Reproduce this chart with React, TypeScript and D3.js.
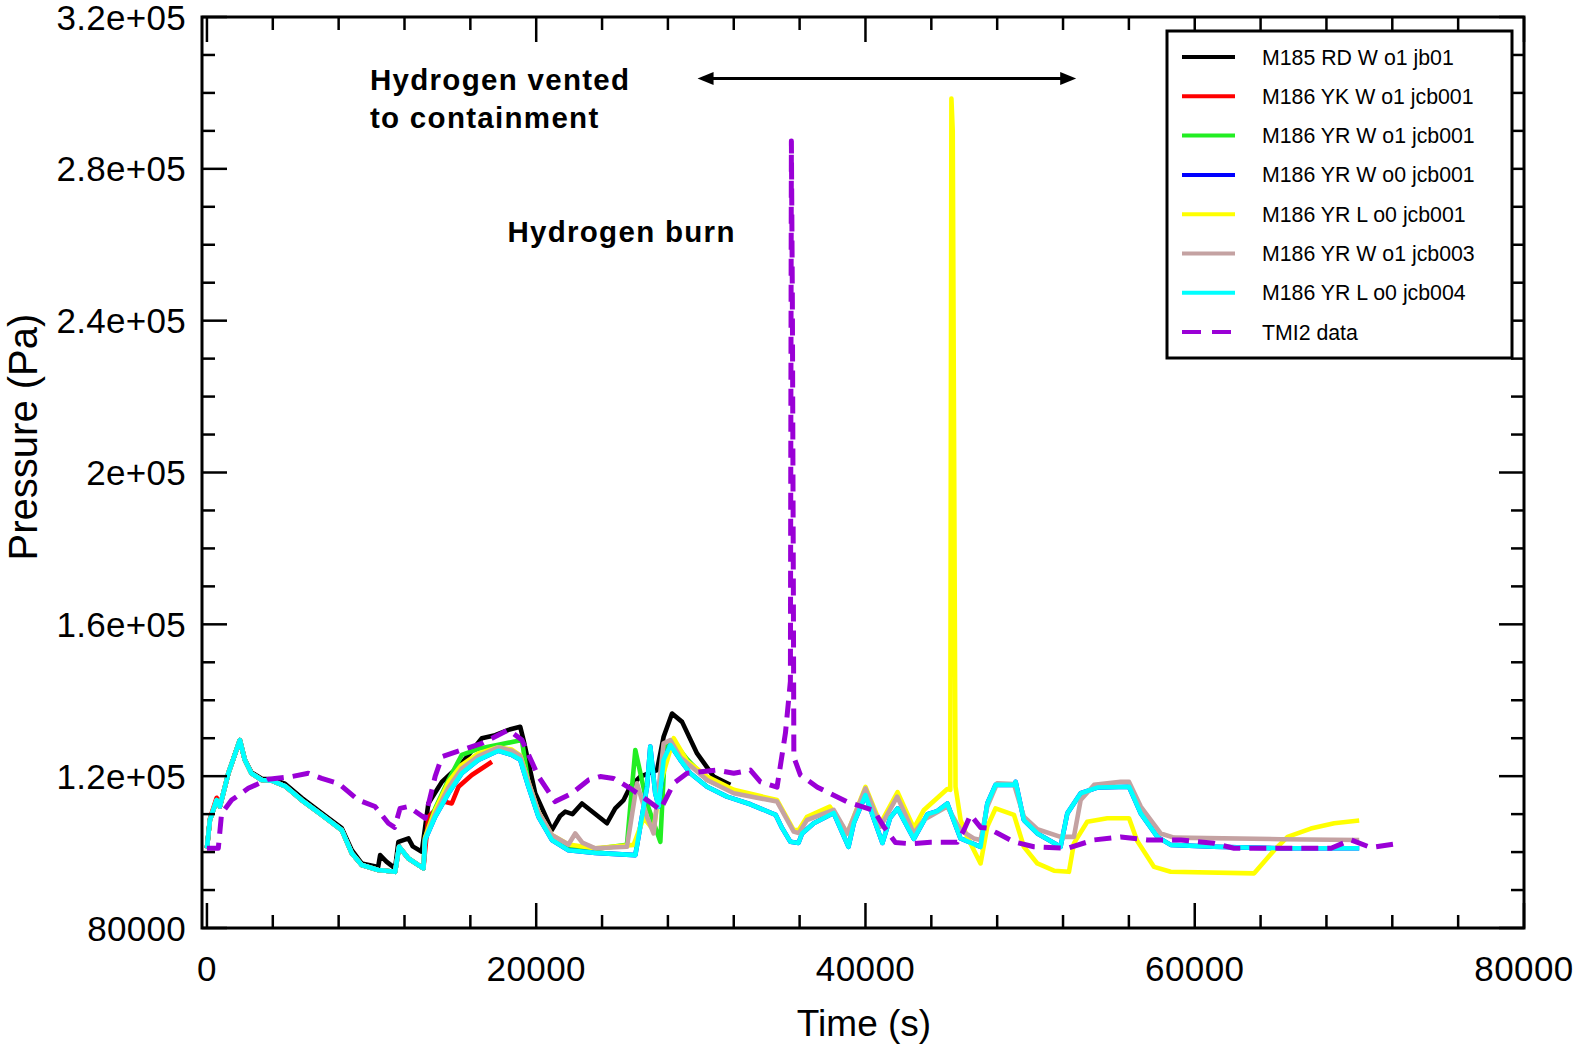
import { useEffect, useRef } from 'react';
import * as d3 from 'd3';

type Pt = [number, number];

const WIDTH = 1577;
const HEIGHT = 1044;
const PLOT = { left: 202, right: 1524, top: 17, bottom: 928 };
const FONT = '"Liberation Sans", Arial, Helvetica, sans-serif';

// axis ticks
const xMajorTicks = [0, 20000, 40000, 60000, 80000];
const xTickLabels = ['0', '20000', '40000', '60000', '80000'];
const xMinorStep = 4000;
const yMajorTicks = [80000, 120000, 160000, 200000, 240000, 280000, 320000];
const yTickLabels = ['80000', '1.2e+05', '1.6e+05', '2e+05', '2.4e+05', '2.8e+05', '3.2e+05'];
const yMinorStep = 10000;

// series: [time (s), pressure (Pa)]
const m185RdWo1: Pt[] = [
    [0, 101000], [180, 108450], [590, 113700], [790, 112000], [1300, 120750], [2000, 129500],
    [2300, 124300], [2700, 121000], [3330, 119300], [3930, 119200], [4740, 118000], [5750, 114300],
    [6970, 110300], [8190, 106300], [8800, 100500], [9400, 97000], [10400, 96100], [10520, 99200],
    [10900, 97500], [11430, 95700], [11630, 102700], [12240, 103600], [12500, 101500], [13050, 100100],
    [13450, 112800], [14270, 118500], [15480, 123400], [16700, 130000], [17510, 130800], [18320, 132200],
    [19030, 133000], [19230, 129500], [19940, 115500], [20950, 105800], [21450, 109500], [21760, 110650],
    [22200, 110000], [22780, 112800], [24300, 107600], [24800, 111500], [25310, 113700], [25710, 117200],
    [26320, 119900], [27340, 121600], [27740, 130400], [28250, 136500], [28860, 134300], [29770, 126000],
    [30780, 119900], [31790, 117700],
];

const m186YkWo1: Pt[] = [
    [0, 101000], [180, 108800], [590, 114300], [790, 112000], [1300, 120750], [2000, 129500],
    [2300, 124300], [2700, 120750], [3330, 119000], [3930, 118800], [4740, 117400], [5750, 113700],
    [6970, 109800], [8190, 105800], [8800, 99700], [9400, 96600], [10400, 95300], [11430, 94800],
    [11670, 101400], [12240, 98300], [13150, 95700], [13450, 109300], [14370, 113300], [14870, 112800],
    [15280, 117200], [16090, 120300], [17310, 123800],
];

const m186YrWo1: Pt[] = [
    [0, 101000], [180, 108450], [590, 113700], [790, 112000], [1300, 120750], [2000, 129500],
    [2300, 124300], [2700, 120750], [3330, 119000], [3930, 118800], [4740, 117400], [5750, 113700],
    [6970, 109800], [8190, 105800], [8800, 99700], [9400, 96600], [10400, 95300], [11430, 94800],
    [11670, 101400], [12240, 98300], [13150, 95700], [13250, 103800], [13860, 111500], [14670, 119000],
    [15480, 125600], [16490, 127200], [17700, 128300], [19130, 129500], [19530, 118000], [20140, 110000],
    [20950, 104000], [21960, 101500], [23590, 100800], [25510, 101900], [26020, 126900], [26730, 112800],
    [27540, 102700], [27840, 128650], [28350, 129000], [29160, 124500], [30380, 119000], [32000, 115800],
    [34630, 113500],
];

const m186YrWo0: Pt[] = [
    [0, 101000], [180, 108450], [590, 113700], [790, 112000], [1300, 120750], [2000, 129500],
    [2300, 124300], [2700, 120750], [3330, 119000], [3930, 118800], [4740, 117400], [5750, 113700],
    [6970, 109800], [8190, 105800], [8800, 99700], [9400, 96600], [10400, 95300], [11430, 94800],
    [11670, 101400], [12240, 98300], [13150, 95700], [13250, 103200], [13860, 109300], [14670, 115500],
    [15480, 120750], [16490, 124300], [17700, 126700], [18520, 125600], [19030, 124300], [19530, 117200],
    [20140, 109300], [20950, 103200], [21960, 100500], [23590, 99800], [26020, 99200], [26320, 106700],
    [26730, 117200], [26930, 127800], [27230, 115500], [27440, 112000], [27740, 124300], [28150, 128200],
    [28750, 124300], [29360, 120750], [30380, 117200], [31590, 114600], [33010, 112600], [34550, 109800],
    [34940, 106300], [35440, 102700], [35930, 102400], [36150, 104900], [36860, 107600], [38070, 110300],
    [38970, 101400], [39290, 107600], [40000, 115000], [41030, 102400], [41500, 109000], [41950, 111500],
    [42940, 103500], [43770, 110000], [44360, 110800], [44970, 112800], [45770, 103600], [46990, 101400],
    [47400, 112800], [47900, 117700], [49020, 117700], [49120, 118500], [49620, 108450], [50440, 104900],
    [51850, 101400], [52260, 110200], [53070, 115500], [54080, 117000], [56010, 117200], [56720, 110200],
    [57730, 104000], [58540, 101900], [61170, 101400], [65230, 101000], [69990, 101000],
];

const m186YrLo0: Pt[] = [
    [0, 101000], [180, 108450], [590, 113700], [790, 112000], [1300, 120750], [2000, 129500],
    [2300, 124300], [2700, 120750], [3330, 119000], [3930, 118800], [4740, 117400], [5750, 113700],
    [6970, 109800], [8190, 105800], [8800, 99700], [9400, 96600], [10400, 95300], [11430, 94800],
    [11670, 101400], [12240, 98300], [13150, 95700], [13250, 103800], [13860, 111000], [14670, 118500],
    [15480, 123000], [16490, 126000], [17700, 127600], [18520, 127000], [19030, 125500], [19530, 118500],
    [20140, 110500], [20950, 104500], [21960, 102000], [23590, 101000], [25920, 101900], [26330, 106700],
    [26530, 109000], [27130, 105800], [27540, 118000], [28350, 130000], [29160, 124000], [30380, 119900],
    [32000, 116400], [34630, 113700], [35640, 105800], [35950, 105800], [36450, 109300], [37830, 112000],
    [38890, 104900], [40000, 117200], [40910, 107500], [41950, 115800], [42940, 106300], [43550, 111100],
    [44970, 116600], [45150, 116400], [45220, 298500], [45300, 290000], [45470, 117200], [45780, 108450],
    [46180, 104000], [46990, 97000], [47400, 106700], [47900, 111500], [49020, 109800], [49620, 101400],
    [50440, 97000], [51450, 95100], [52360, 94800], [52660, 102300], [53470, 108000], [54690, 108900],
    [56010, 108900], [56500, 103000], [57530, 96100], [58540, 94800], [63610, 94400], [64830, 100500],
    [65640, 104000], [67050, 106200], [68470, 107600], [69990, 108300],
];

const m186YrWo1b: Pt[] = [
    [0, 101000], [180, 108450], [590, 113700], [790, 112000], [1300, 120750], [2000, 129500],
    [2300, 124300], [2700, 120750], [3330, 119000], [3930, 118800], [4740, 117400], [5750, 113700],
    [6970, 109800], [8190, 105800], [8800, 99700], [9400, 96600], [10400, 95300], [11430, 94800],
    [11670, 101400], [12240, 98300], [13150, 95700], [13250, 103500], [13860, 110000], [14670, 117000],
    [15480, 122000], [16490, 125300], [17700, 127600], [18520, 126700], [19030, 125300], [19530, 118500],
    [20140, 110500], [20950, 104500], [21960, 102000], [22370, 104900], [22800, 102500], [23590, 101000],
    [25510, 101400], [26120, 118100], [26730, 109300], [27130, 104900], [27740, 128650], [28150, 129500],
    [28750, 125000], [30380, 119000], [32000, 115500], [34630, 113300], [35640, 105400], [35950, 105000],
    [36450, 108450], [38070, 111100], [38890, 104900], [40000, 116800], [40910, 106700], [41930, 114600],
    [42940, 104900], [43550, 108500], [44970, 112000], [45780, 105800], [46580, 103600], [46990, 103200],
    [47400, 112000], [48000, 118100], [49020, 117900], [49620, 109300], [50440, 106000], [51850, 104000],
    [52660, 104000], [53070, 113700], [53880, 117700], [55500, 118500], [56010, 118500], [56720, 112000],
    [57930, 104900], [58740, 103800], [65230, 103400], [69990, 103200],
];

const m186YrLo0b: Pt[] = m186YrWo0.map(([t, p]) => [t, p] as Pt);

const tmi2Data: Pt[] = [
    [0, 101000], [690, 101000], [890, 110200], [1500, 113700], [2510, 116800], [3730, 119200],
    [5150, 119900], [6160, 120750], [6970, 119400], [7980, 118100], [9200, 113700], [10210, 112000],
    [11020, 107600], [11400, 106500], [11730, 111500], [12240, 112000], [13250, 108900], [13860, 119900],
    [14270, 125100], [15480, 126900], [16700, 128650], [18320, 132200], [19130, 129500], [20140, 119900],
    [21150, 113300], [22170, 115500], [23180, 119000], [23890, 119900], [24700, 119400], [25710, 116800],
    [26730, 113700], [27540, 111100], [28350, 118100], [29160, 120750], [30990, 121600], [32000, 120750],
    [33010, 121600], [33620, 118500], [34630, 117100], [35140, 131400], [35440, 145000], [35470, 220000],
    [35500, 287300], [35560, 245000], [35620, 170000], [35650, 125000], [36050, 120300], [37080, 117100],
    [38890, 113200], [40500, 111000], [41110, 106700], [41820, 102500], [42740, 102200], [43950, 102600],
    [45570, 102600], [45980, 105800], [46380, 109800], [46990, 106500], [47400, 106300], [48000, 105000],
    [49020, 102700], [50230, 101400], [52260, 101000], [53880, 103200], [55500, 104000], [57120, 103200],
    [59150, 103200], [61170, 102300], [62390, 101000], [68280, 101000], [69490, 103200], [70700, 101200],
    [72120, 102100],
];

const seriesNames = [
    'M185 RD W o1 jb01',
    'M186 YK W o1 jcb001',
    'M186 YR W o1 jcb001',
    'M186 YR W o0 jcb001',
    'M186 YR L o0 jcb001',
    'M186 YR W o1 jcb003',
    'M186 YR L o0 jcb004',
    'TMI2 data',
];
const seriesColors = ['#000000', '#ff0000', '#22ee22', '#0000ff', '#ffff00', '#c4a2a2', '#00ffff', '#9a00d6'];
const seriesData = [m185RdWo1, m186YkWo1, m186YrWo1, m186YrWo0, m186YrLo0, m186YrWo1b, m186YrLo0b, tmi2Data];
const seriesDashed = [false, false, false, false, false, false, false, true];

// annotations (data coordinates)
const ventArrow = { from: 29800, to: 52800, p: 303800 };
const ventLabel = { t: 9900, p: 300700, lines: ['Hydrogen vented', 'to containment'] };
const burnLabel = { t: 18250, p: 260800, text: 'Hydrogen burn' };

export default function App() {
    const svgRef = useRef<SVGSVGElement>(null);

    useEffect(() => {
        if (!svgRef.current) return;
        const svg = d3.select(svgRef.current);
        svg.selectAll('*').remove();

        const x = d3.scaleLinear().domain([-300, 80000]).range([PLOT.left, PLOT.right]);
        const y = d3.scaleLinear().domain([80000, 320000]).range([PLOT.bottom, PLOT.top]);

        const clipId = 'plot-clip';
        svg.append('defs').append('clipPath').attr('id', clipId)
            .append('rect')
            .attr('x', PLOT.left).attr('y', PLOT.top)
            .attr('width', PLOT.right - PLOT.left).attr('height', PLOT.bottom - PLOT.top);

        const line = d3.line<Pt>().x((d) => x(d[0])).y((d) => y(d[1]));

        const lines = svg.append('g').attr('clip-path', `url(#${clipId})`);
        seriesData.forEach((data, i) => {
            lines.append('path')
                .datum(data)
                .attr('fill', 'none')
                .attr('stroke', seriesColors[i])
                .attr('stroke-width', seriesDashed[i] ? 5 : 4.6)
                .attr('stroke-linejoin', 'round')
                .attr('stroke-dasharray', seriesDashed[i] ? '17,9' : null)
                .attr('d', line);
        });

        // frame and inward ticks on all four sides
        const axes = svg.append('g').attr('stroke', '#000');
        axes.append('rect')
            .attr('x', PLOT.left).attr('y', PLOT.top)
            .attr('width', PLOT.right - PLOT.left).attr('height', PLOT.bottom - PLOT.top)
            .attr('fill', 'none').attr('stroke-width', 3);

        const MAJOR = 25;
        const MINOR = 13;
        const xMinor = d3.range(0, 80001, xMinorStep);
        xMinor.forEach((t) => {
            const len = xMajorTicks.includes(t) ? MAJOR : MINOR;
            const px = x(t);
            axes.append('line').attr('x1', px).attr('x2', px)
                .attr('y1', PLOT.bottom).attr('y2', PLOT.bottom - len).attr('stroke-width', 2.5);
            axes.append('line').attr('x1', px).attr('x2', px)
                .attr('y1', PLOT.top).attr('y2', PLOT.top + len).attr('stroke-width', 2.5);
        });
        const yMinor = d3.range(80000, 320001, yMinorStep);
        yMinor.forEach((p) => {
            const len = yMajorTicks.includes(p) ? MAJOR : MINOR;
            const py = y(p);
            axes.append('line').attr('y1', py).attr('y2', py)
                .attr('x1', PLOT.left).attr('x2', PLOT.left + len).attr('stroke-width', 2.5);
            axes.append('line').attr('y1', py).attr('y2', py)
                .attr('x1', PLOT.right).attr('x2', PLOT.right - len).attr('stroke-width', 2.5);
        });

        const labels = svg.append('g').attr('font-family', FONT).attr('fill', '#000');
        xMajorTicks.forEach((t, i) => {
            labels.append('text')
                .attr('x', x(t)).attr('y', PLOT.bottom + 53)
                .attr('text-anchor', 'middle').attr('font-size', 35)
                .attr('letter-spacing', 0.4)
                .text(xTickLabels[i]);
        });
        yMajorTicks.forEach((p, i) => {
            labels.append('text')
                .attr('x', PLOT.left - 16).attr('y', y(p) + 12.5)
                .attr('text-anchor', 'end').attr('font-size', 35)
                .attr('letter-spacing', 0.3)
                .text(yTickLabels[i]);
        });

        labels.append('text')
            .attr('x', (PLOT.left + PLOT.right) / 2 + 1).attr('y', 1036)
            .attr('text-anchor', 'middle').attr('font-size', 37)
            .text('Time (s)');
        labels.append('text')
            .attr('transform', 'translate(37,437) rotate(-90)')
            .attr('text-anchor', 'middle').attr('font-size', 40)
            .text('Pressure (Pa)');

        // annotations
        const ann = svg.append('g')
            .attr('font-family', FONT).attr('font-weight', 'bold')
            .attr('font-size', 29.5).attr('letter-spacing', 1.3);
        ventLabel.lines.forEach((s, i) => {
            ann.append('text')
                .attr('x', x(ventLabel.t)).attr('y', y(ventLabel.p) + i * 37.8)
                .text(s);
        });
        ann.append('text').attr('x', x(burnLabel.t)).attr('y', y(burnLabel.p)).text(burnLabel.text);

        const ax0 = x(ventArrow.from);
        const ax1 = x(ventArrow.to);
        const ay = y(ventArrow.p);
        const head = 16;
        const half = 6.5;
        svg.append('line')
            .attr('x1', ax0 + head - 2).attr('x2', ax1 - head + 2)
            .attr('y1', ay).attr('y2', ay)
            .attr('stroke', '#000').attr('stroke-width', 3);
        svg.append('path')
            .attr('d', `M${ax0},${ay} L${ax0 + head},${ay - half} L${ax0 + head},${ay + half} Z`)
            .attr('fill', '#000');
        svg.append('path')
            .attr('d', `M${ax1},${ay} L${ax1 - head},${ay - half} L${ax1 - head},${ay + half} Z`)
            .attr('fill', '#000');

        // legend
        const LEG = { x: 1167, y: 31, w: 345, h: 327, rowY: 26, rowStep: 39.3 };
        const leg = svg.append('g').attr('font-family', FONT);
        leg.append('rect')
            .attr('x', LEG.x).attr('y', LEG.y).attr('width', LEG.w).attr('height', LEG.h)
            .attr('fill', '#fff').attr('stroke', '#000').attr('stroke-width', 3);
        seriesNames.forEach((name, i) => {
            const ry = LEG.y + LEG.rowY + i * LEG.rowStep;
            leg.append('line')
                .attr('x1', LEG.x + 15).attr('x2', LEG.x + 68)
                .attr('y1', ry).attr('y2', ry)
                .attr('stroke', seriesColors[i]).attr('stroke-width', 4)
                .attr('stroke-dasharray', seriesDashed[i] ? '19,11' : null);
            leg.append('text')
                .attr('x', LEG.x + 95).attr('y', ry + 7.5)
                .attr('font-size', 21.3)
                .text(name);
        });
    }, []);

    return (
        <svg
            ref={svgRef}
            width={WIDTH}
            height={HEIGHT}
            style={{ position: 'absolute', left: 0, top: 0, background: '#fff' }}
        />
    );
}
